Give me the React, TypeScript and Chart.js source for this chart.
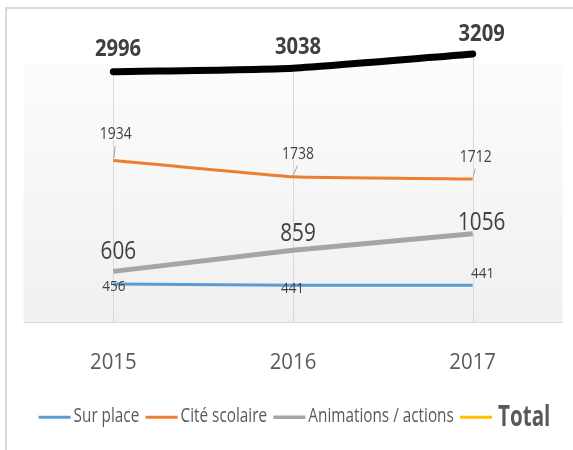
import { useEffect, useRef } from 'react';
import { Chart, registerables } from 'chart.js';

Chart.register(...registerables);

// ---- data ----
const categories = ['2015', '2016', '2017'];
const surPlace = [456, 441, 441];
const citeScolaire = [1934, 1738, 1712];
const animations = [606, 859, 1056];
const total = [2996, 3038, 3209];
const seriesNames = ['Sur place', 'Cité scolaire', 'Animations / actions', 'Total'];

// ---- styles ----
const FONT = '"Open Sans", "DejaVu Sans", sans-serif';
const CAP = 0.714;
const lineColors = ['#5B9BD5', '#ED7D31', '#A5A5A5', '#000000'];
const legendColors = ['#5B9BD5', '#ED7D31', '#A5A5A5', '#FFC000'];

const labelStyles = [
  { size: 15, weight: 400, sx: 0.9, offsets: [[0.5, 1.5], [-0.5, 2.3], [10, -12.7]], leader: false },
  { size: 16.4, weight: 400, sx: 0.85, offsets: [[2.4, -27.2], [5, -24], [3, -23.2]], leader: true },
  { size: 24.7, weight: 400, sx: 0.84, offsets: [[5, -21], [5, -18.5], [9, -12.3]], leader: false },
  { size: 23.5, weight: 700, sx: 0.86, offsets: [[4.7, -24.1], [5, -22.7], [9, -21.1]], leader: false },
];

function drawText(
  ctx: CanvasRenderingContext2D,
  text: string,
  x: number,
  cy: number,
  size: number,
  weight: number,
  sx: number,
  color: string,
  align: CanvasTextAlign = 'center'
) {
  ctx.save();
  ctx.translate(x, cy + (CAP * size) / 2);
  ctx.scale(sx, 1);
  ctx.font = `${weight} ${size}px ${FONT}`;
  ctx.fillStyle = color;
  ctx.textAlign = align;
  ctx.textBaseline = 'alphabetic';
  ctx.fillText(text, 0, 0);
  ctx.restore();
}

function textWidth(ctx: CanvasRenderingContext2D, text: string, size: number, weight: number, sx: number) {
  ctx.save();
  ctx.font = `${weight} ${size}px ${FONT}`;
  const w = ctx.measureText(text).width * sx;
  ctx.restore();
  return w;
}

const decorPlugin = {
  id: 'decor',
  beforeDraw(chart: any) {
    const { ctx, chartArea: a } = chart;
    ctx.save();
    ctx.fillStyle = '#ffffff';
    ctx.fillRect(0, 0, chart.width, chart.height);
    // outer frame
    ctx.fillStyle = '#d9d9d9';
    ctx.fillRect(5, 7, chart.width - 5, 2);
    ctx.fillRect(5, 7, 2, chart.height - 7);
    // plot area gradient
    const g = ctx.createLinearGradient(0, a.top, 0, a.bottom);
    g.addColorStop(0, '#fcfcfc');
    g.addColorStop(1, '#f0f0f0');
    ctx.fillStyle = g;
    ctx.fillRect(a.left, a.top, a.right - a.left, a.bottom - a.top);
    ctx.restore();
  },
  beforeDatasetsDraw(chart: any) {
    const { ctx, chartArea: a } = chart;
    const meta = chart.getDatasetMeta(3);
    ctx.save();
    ctx.strokeStyle = '#d9d9d9';
    ctx.lineWidth = 1;
    meta.data.forEach((p: any) => {
      const x = Math.round(p.x) + 0.5;
      ctx.beginPath();
      ctx.moveTo(x, p.y);
      ctx.lineTo(x, a.bottom);
      ctx.stroke();
    });
    ctx.beginPath();
    ctx.moveTo(a.left, Math.round(a.bottom) + 0.5);
    ctx.lineTo(a.right, Math.round(a.bottom) + 0.5);
    ctx.stroke();
    ctx.restore();
  },
  afterDatasetsDraw(chart: any) {
    const { ctx } = chart;
    // data labels
    labelStyles.forEach((st, di) => {
      const meta = chart.getDatasetMeta(di);
      const values = chart.data.datasets[di].data as number[];
      meta.data.forEach((p: any, i: number) => {
        const [dx, dy] = st.offsets[i];
        const lx = p.x + dx;
        const ly = p.y + dy;
        if (st.leader) {
          ctx.save();
          ctx.strokeStyle = '#a6a6a6';
          ctx.lineWidth = 1;
          ctx.beginPath();
          ctx.moveTo(lx - 0.5, ly + (CAP * st.size) / 2 + 7);
          ctx.lineTo(p.x + 0.5, p.y - 2);
          ctx.stroke();
          ctx.restore();
        }
        drawText(ctx, String(values[i]), lx, ly, st.size, st.weight, st.sx, '#404040');
      });
    });
    // x tick labels
    const xs = chart.scales.x;
    categories.forEach((c, i) => {
      drawText(ctx, c, xs.getPixelForValue(i), 361.3, 22.4, 400, 0.91, '#595959');
    });
    // legend
    const items = seriesNames.map((name, i) => {
      const bold = i === 3;
      const size = bold ? 29 : 19.5;
      const weight = bold ? 700 : 400;
      const sx = bold ? 0.71 : 0.785;
      return { name, size, weight, sx, w: textWidth(ctx, name, size, weight, sx), color: legendColors[i], gap: bold ? 6 : 3 };
    });
    const lineLen = 32;
    const itemGap = 6.3;
    let totalW = 0;
    items.forEach((it, i) => {
      totalW += lineLen + it.gap + it.w + (i < items.length - 1 ? itemGap : 0);
    });
    let x = 294.5 - totalW / 2;
    const ly = 417.3;
    items.forEach((it, i) => {
      ctx.save();
      ctx.strokeStyle = it.color;
      ctx.lineWidth = i === 2 ? 3.5 : 3;
      ctx.beginPath();
      ctx.moveTo(x, ly);
      ctx.lineTo(x + lineLen, ly);
      ctx.stroke();
      ctx.restore();
      x += lineLen + it.gap;
      drawText(ctx, it.name, x, 415.5, it.size, it.weight, it.sx, '#595959', 'left');
      x += it.w + itemGap;
    });
  },
};

export default function App() {
  const ref = useRef<HTMLCanvasElement>(null);
  useEffect(() => {
    const canvas = ref.current!;
    const chart = new Chart(canvas, {
      type: 'line',
      data: {
        labels: categories,
        datasets: [
          { label: seriesNames[0], data: surPlace, borderColor: lineColors[0], borderWidth: 3, pointRadius: 0, tension: 0, clip: false as any },
          { label: seriesNames[1], data: citeScolaire, borderColor: lineColors[1], borderWidth: 3, pointRadius: 0, tension: 0.1, clip: false as any },
          { label: seriesNames[2], data: animations, borderColor: lineColors[2], borderWidth: 5, pointRadius: 0, tension: 0, clip: false as any },
          { label: seriesNames[3], data: total, borderColor: lineColors[3], borderWidth: 7, pointRadius: 0, tension: 0.2, borderCapStyle: 'round', borderJoinStyle: 'round', clip: false as any },
        ],
      },
      options: {
        responsive: false,
        animation: false,
        devicePixelRatio: 1,
        layout: { padding: { left: 23.5, right: 10.5, top: 63, bottom: 0 } },
        scales: {
          x: {
            offset: true,
            ticks: { display: false },
            grid: { display: false },
            border: { display: false },
            afterFit: (s: any) => {
              s.height = 128;
            },
          },
          y: { display: false, min: 0, max: 3100 },
        },
        plugins: { legend: { display: false }, tooltip: { enabled: false } },
      },
      plugins: [decorPlugin],
    });
    return () => chart.destroy();
  }, []);
  return (
    <div style={{ position: 'absolute', left: 0, top: 0, width: 573, height: 450, background: '#fff' }}>
      <canvas ref={ref} width={573} height={450} style={{ display: 'block' }} />
    </div>
  );
}
